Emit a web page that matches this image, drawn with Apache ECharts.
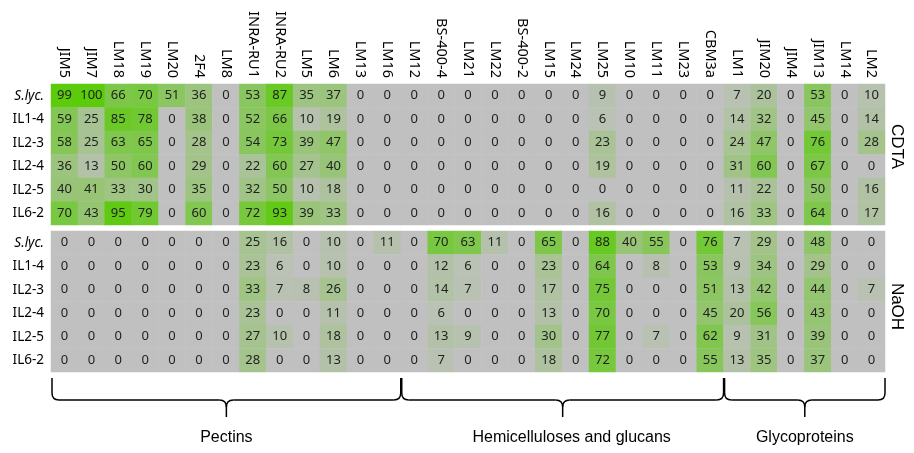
<!DOCTYPE html>
<html><head><meta charset="utf-8">
<script src="https://cdn.jsdelivr.net/npm/echarts@6/dist/echarts.min.js"></script>
<style>html,body{margin:0;padding:0;background:#fff}#c{width:914px;height:453px}</style>
</head><body><div id="c"></div>
<script>
const antibodies = ['JIM5','JIM7','LM18','LM19','LM20','2F4','LM8','INRA-RU1','INRA-RU2','LM5','LM6','LM13','LM16','LM12','BS-400-4','LM21','LM22','BS-400-2','LM15','LM24','LM25','LM10','LM11','LM23','CBM3a','LM1','JIM20','JIM4','JIM13','LM14','LM2'];
const lines = ['S.lyc.','IL1-4','IL2-3','IL2-4','IL2-5','IL6-2'];

const cdtaSlyc = [99,100,66,70,51,36,0,53,87,35,37,0,0,0,0,0,0,0,0,0,9,0,0,0,0,7,20,0,53,0,10];
const cdtaIL14 = [59,25,85,78,0,38,0,52,66,10,19,0,0,0,0,0,0,0,0,0,6,0,0,0,0,14,32,0,45,0,14];
const cdtaIL23 = [58,25,63,65,0,28,0,54,73,39,47,0,0,0,0,0,0,0,0,0,23,0,0,0,0,24,47,0,76,0,28];
const cdtaIL24 = [36,13,50,60,0,29,0,22,60,27,40,0,0,0,0,0,0,0,0,0,19,0,0,0,0,31,60,0,67,0,0];
const cdtaIL25 = [40,41,33,30,0,35,0,32,50,10,18,0,0,0,0,0,0,0,0,0,0,0,0,0,0,11,22,0,50,0,16];
const cdtaIL62 = [70,43,95,79,0,60,0,72,93,39,33,0,0,0,0,0,0,0,0,0,16,0,0,0,0,16,33,0,64,0,17];

const naohSlyc = [0,0,0,0,0,0,0,25,16,0,10,0,11,0,70,63,11,0,65,0,88,40,55,0,76,7,29,0,48,0,0];
const naohIL14 = [0,0,0,0,0,0,0,23,6,0,10,0,0,0,12,6,0,0,23,0,64,0,8,0,53,9,34,0,29,0,0];
const naohIL23 = [0,0,0,0,0,0,0,33,7,8,26,0,0,0,14,7,0,0,17,0,75,0,0,0,51,13,42,0,44,0,7];
const naohIL24 = [0,0,0,0,0,0,0,23,0,0,11,0,0,0,6,0,0,0,13,0,70,0,0,0,45,20,56,0,43,0,0];
const naohIL25 = [0,0,0,0,0,0,0,27,10,0,18,0,0,0,13,9,0,0,30,0,77,0,7,0,62,9,31,0,39,0,0];
const naohIL62 = [0,0,0,0,0,0,0,28,0,0,13,0,0,0,7,0,0,0,18,0,72,0,0,0,55,13,35,0,37,0,0];

const extractions = ['CDTA','NaOH'];
const groupNames = ['Pectins','Hemicelluloses and glucans','Glycoproteins'];
const groupFirst = ['JIM5','LM12','LM1'];
const groupLast = ['LM16','CBM3a','LM2'];

function toCells(rows){
  const out = [];
  rows.forEach((r, yi) => r.forEach((v, xi) => out.push([xi, yi, v])));
  return out;
}
const cdtaCells = toCells([cdtaSlyc,cdtaIL14,cdtaIL23,cdtaIL24,cdtaIL25,cdtaIL62]);
const naohCells = toCells([naohSlyc,naohIL14,naohIL23,naohIL24,naohIL25,naohIL62]);

const FONT = 'Noto Sans';
const yLabel = {
  fontFamily: FONT, fontSize: 13.5, color: '#000', margin: 7,
  formatter: v => v === 'S.lyc.' ? '{i|' + v + '}' : v,
  rich: { i: { fontStyle: 'italic', fontFamily: FONT, fontSize: 13.5, color: '#000' } }
};
const cellLabel = { show: true, formatter: p => p.value[2], fontFamily: FONT, fontSize: 13, color: '#222' };

const chart = echarts.init(document.getElementById('c'), null, {renderer: 'canvas'});
const option = {
  animation: false,
  backgroundColor: '#fff',
  grid: [
    { left: 51, right: 29, top: 84, height: 141 },
    { left: 51, right: 29, top: 231, height: 141 }
  ],
  xAxis: [
    { type: 'category', data: antibodies, gridIndex: 0, position: 'top',
      axisLine: {show: false}, axisTick: {show: false}, splitLine: {show: false},
      axisLabel: { rotate: 90, interval: 0, fontFamily: FONT, fontSize: 14.5, color: '#000', margin: 6 } },
    { type: 'category', data: antibodies, gridIndex: 1,
      axisLine: {show: false}, axisTick: {show: false}, axisLabel: {show: false} }
  ],
  yAxis: [
    { type: 'category', data: lines, gridIndex: 0, inverse: true,
      axisLine: {show: false}, axisTick: {show: false}, axisLabel: yLabel },
    { type: 'category', data: lines, gridIndex: 1, inverse: true,
      axisLine: {show: false}, axisTick: {show: false}, axisLabel: yLabel }
  ],
  visualMap: { show: false, min: 0, max: 100, seriesIndex: [0, 1], dimension: 2,
    inRange: { color: ['#c0c0c0', '#5bcb0a'] } },
  series: [
    { name: extractions[0], type: 'heatmap', xAxisIndex: 0, yAxisIndex: 0, data: cdtaCells, label: cellLabel,
      itemStyle: { borderWidth: 0 }, emphasis: {disabled: true} },
    { name: extractions[1], type: 'heatmap', xAxisIndex: 1, yAxisIndex: 1, data: naohCells, label: cellLabel,
      itemStyle: { borderWidth: 0 }, emphasis: {disabled: true} }
  ]
};
chart.setOption(option);

// Annotations derived from axes
const cx = i => chart.convertToPixel({xAxisIndex: 1}, antibodies[i]);
const bw = cx(1) - cx(0);
const leftEdge = name => cx(antibodies.indexOf(name)) - bw / 2;
const rightEdge = name => cx(antibodies.indexOf(name)) + bw / 2;
const rowY = (axis, i) => chart.convertToPixel({yAxisIndex: axis}, lines[i]);
const bottomY = rowY(1, 5) + (rowY(1, 1) - rowY(1, 0)) / 2;

const graphics = [];
const y0 = bottomY + 6, y1 = bottomY + 28, y2 = bottomY + 45, r = 7;
const stroke = { stroke: '#000', lineWidth: 1.5, fill: null };
function seg(x1, yA, x2, yB) { graphics.push({ type: 'line', shape: {x1: x1, y1: yA, x2: x2, y2: yB}, style: stroke }); }
function curve(x1, yA, cpx, cpy, x2, yB) { graphics.push({ type: 'bezierCurve', shape: {x1: x1, y1: yA, cpx1: cpx, cpy1: cpy, x2: x2, y2: yB}, style: stroke }); }
groupNames.forEach((g, k) => {
  const xa = leftEdge(groupFirst[k]) + 1, xb = rightEdge(groupLast[k]);
  const xm = (xa + xb) / 2;
  seg(xa, y0, xa, y1 - r);
  curve(xa, y1 - r, xa, y1, xa + r, y1);
  seg(xa + r, y1, xm - r, y1);
  curve(xm - r, y1, xm, y1, xm, y1 + r);
  curve(xm + r, y1, xm, y1, xm, y1 + r);
  seg(xm, y1 + r, xm, y2);
  seg(xm + r, y1, xb - r, y1);
  curve(xb - r, y1, xb, y1, xb, y1 - r);
  seg(xb, y1 - r, xb, y0);
  graphics.push({ type: 'text', x: xm + (k === 1 ? 9 : 0), y: bottomY + 66,
    style: { text: g, font: '16px "Liberation Sans", Arial, sans-serif', fill: '#000', textAlign: 'center', textVerticalAlign: 'middle' } });
});
const rightX = rightEdge('LM2') + 12;
const blockMid = a => (rowY(a, 2) + rowY(a, 3)) / 2;
[[0, -8], [1, 5]].forEach(([a, off]) => {
  graphics.push({ type: 'text', x: rightX, y: blockMid(a) + off, rotation: -Math.PI / 2,
    style: { text: extractions[a], font: '17px "Liberation Sans", Arial, sans-serif', fill: '#000', textAlign: 'center', textVerticalAlign: 'middle' } });
});
chart.setOption({ graphic: graphics });
</script></body></html>
